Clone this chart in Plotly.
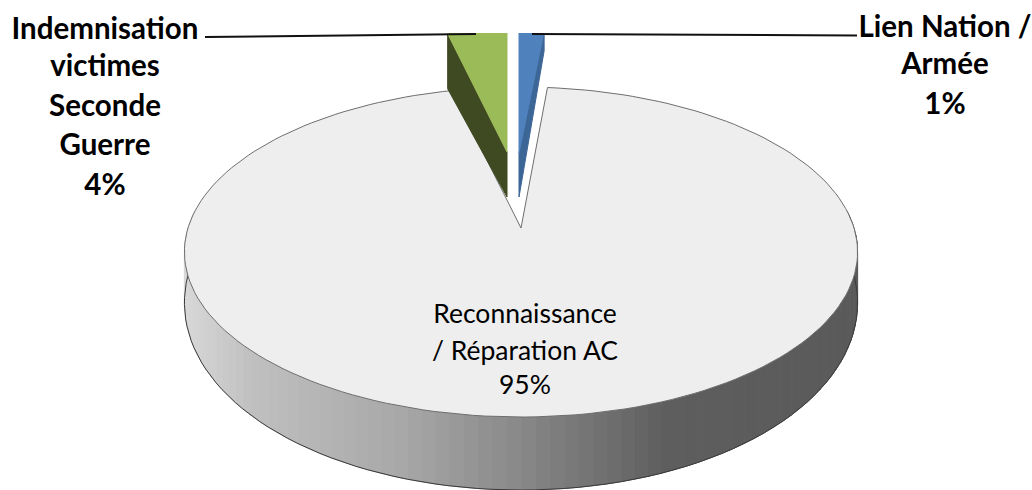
import math
import plotly.graph_objects as go

# ---- data (labels show the rounded percentages) ----
categories = ["Lien Nation / Armée", "Reconnaissance / Réparation AC", "Indemnisation victimes Seconde Guerre"]
shares = [1.45, 94.75, 3.8]
colors_top = ["#4f81bd", "#eeeeee", "#9bbb59"]
colors_wall = ["#3c6696", "#8c8c8c", "#3f4a22"]

label_lines = [
    ["Lien Nation /", "Armée", "1%"],
    ["Reconnaissance", "/ Réparation AC", "95%"],
    ["Indemnisation", "victimes", "Seconde", "Guerre", "4%"],
]
label_x = [945, 525, 105]
label_y = [[30, 67, 107], [316, 353, 387], [32, 69, 109, 148, 188]]

# ---- projection of the tilted pie ----
A, B, K = 333.0, 161.5, 0.1456
# per slice: apex x, apex y, scale x, scale y, wall depth at apex, wall depth at rim
slice_geo = [
    (519, 153, 0.95, 0.87, 44, 20),
    (521, 228, 1.0, 1.0, 47, 26),
    (507, 152, 0.86, 0.86, 45, 55),
]


def proj(a_deg, apex, sx=1.0, sy=1.0):
    a = math.radians(a_deg)
    u, v = math.sin(a), math.cos(a)
    w = 1 + K * v
    return apex[0] + sx * A * u / w, apex[1] - sy * B * v / w


def lerp_colour(x):
    stops = [(185, 216), (250, 192), (400, 168), (520, 136), (665, 94), (860, 90)]
    for (x0, c0), (x1, c1) in zip(stops, stops[1:]):
        if x <= x1:
            t = max(0, (x - x0) / (x1 - x0))
            c = round(c0 + (c1 - c0) * t)
            return f"rgb({c},{c},{c})"
    return "rgb(90,90,90)"


# sweep of each slice, clockwise from the top
starts, a0 = [], 0.0
for s in shares:
    starts.append(a0)
    a0 += s * 3.6

fig = go.Figure()


def poly(xs, ys, fill, line=None, width=1):
    fig.add_trace(go.Scatter(x=xs, y=ys, mode="lines", fill="toself", fillcolor=fill,
                             line=dict(color=line or fill, width=width),
                             hoverinfo="skip", showlegend=False))


# big slice: front wall in shaded strips, then its top
ax, ay, sx, sy, d0, d1 = slice_geo[1]
n = 90
for i in range(n):
    a1 = 84 + (276 - 84) * i / n
    a2 = 84 + (276 - 84) * (i + 1) / n
    x1, y1 = proj(a1, (ax, ay))
    x2, y2 = proj(a2, (ax, ay))
    dp1 = d0 - d1 * math.cos(math.radians(a1))
    dp2 = d0 - d1 * math.cos(math.radians(a2))
    c = lerp_colour((x1 + x2) / 2)
    poly([x1, x2, x2, x1, x1], [y1, y2, y2 + dp2, y1 + dp1, y1], c)

# outline of the wall's lower edge
wx, wy = [], []
for i in range(n + 1):
    a = 84 + (276 - 84) * i / n
    x, y = proj(a, (ax, ay))
    wx.append(x)
    wy.append(y + d0 - d1 * math.cos(math.radians(a)))
fig.add_trace(go.Scatter(x=wx, y=wy, mode="lines", line=dict(color="#3a3a3a", width=1),
                         hoverinfo="skip", showlegend=False))

# top surface of the big slice
st, sw = starts[1], shares[1] * 3.6
xs, ys = [ax], [ay]
for i in range(181):
    x, y = proj(st + sw * i / 180, (ax, ay))
    xs.append(x)
    ys.append(y)
xs.append(ax)
ys.append(ay)
poly(xs, ys, colors_top[1], "#6e6e6e", 1)

# the two exploded slices: wall then top
for idx in (2, 0):
    ax, ay, sx, sy, d0, d1 = slice_geo[idx]
    st, sw = starts[idx], shares[idx] * 3.6
    edge = st if idx == 2 else st + sw
    ex, ey = proj(edge, (ax, ay), sx, sy)
    poly([ax, ex, ex, ax, ax], [ay, ey, ey + d1, ay + d0, ay], colors_wall[idx])
    xs, ys = [ax], [ay]
    for i in range(21):
        x, y = proj(st + sw * i / 20, (ax, ay), sx, sy)
        xs.append(x)
        ys.append(y)
    xs.append(ax)
    ys.append(ay)
    poly(xs, ys, colors_top[idx])

# leader lines
leaders = [([205, 476], [37, 34]), ([532, 857], [34, 35.5])]
for lx, ly in leaders:
    fig.add_trace(go.Scatter(x=lx, y=ly, mode="lines", line=dict(color="#111111", width=2),
                             hoverinfo="skip", showlegend=False, cliponaxis=False))

# labels, on a second axis pair covering the whole page
for lines, x, ys_ in zip(label_lines, label_x, label_y):
    big = lines[0] == "Reconnaissance"
    fig.add_trace(go.Scatter(
        x=[x] * len(lines), y=ys_, text=lines, mode="text", textposition="middle center",
        textfont=dict(family="Lato", size=26.5 if big else 29.5, color="#000000",
                      weight=400 if big else 700),
        hoverinfo="skip", showlegend=False, xaxis="x2", yaxis="y2"))

hidden = dict(visible=False, showgrid=False, zeroline=False, fixedrange=True)
fig.update_layout(
    width=1032, height=490, margin=dict(l=0, r=0, t=0, b=0),
    paper_bgcolor="white", plot_bgcolor="rgba(0,0,0,0)", showlegend=False,
    xaxis=dict(range=[0, 1032], domain=[0, 1], anchor="y", **hidden),
    yaxis=dict(range=[490, 33], domain=[0, 457 / 490], anchor="x", **hidden),
    xaxis2=dict(range=[0, 1032], domain=[0, 1], anchor="y2", **hidden),
    yaxis2=dict(range=[490, 0], domain=[0, 1], anchor="x2", **hidden),
)
fig.write_html("out.html", config={"displayModeBar": False},
               post_script="document.body.style.margin='0';")
